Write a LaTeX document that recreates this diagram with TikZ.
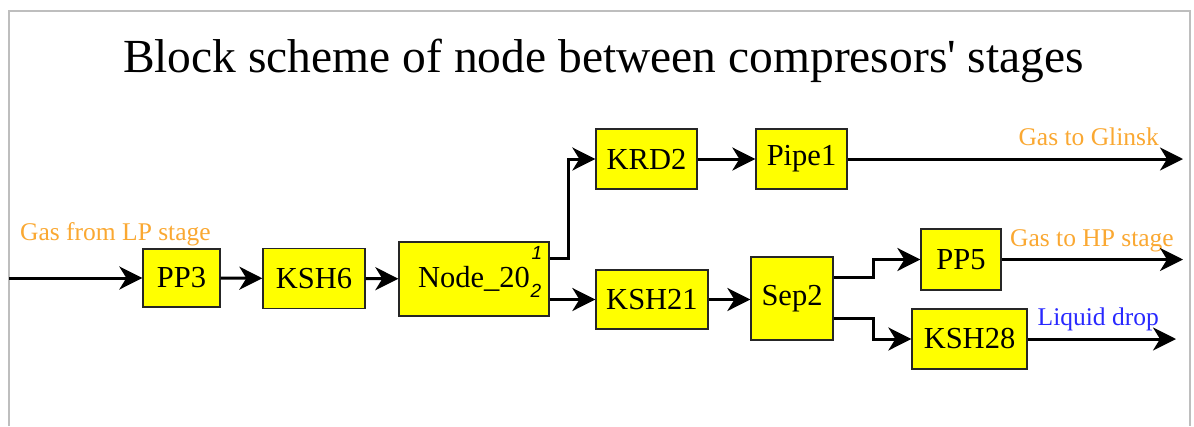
\documentclass[tikz,border=0pt]{standalone}
\usepackage{fontspec}
\setmainfont{Liberation Serif}
\newfontfamily\portfont{Liberation Sans}
\usetikzlibrary{arrows.meta}
\definecolor{boxyellow}{RGB}{255,255,0}
\definecolor{lblorange}{RGB}{250,168,50}
\definecolor{lblblue}{RGB}{40,40,255}
\definecolor{framegray}{RGB}{190,190,190}
\tikzset{
  blk/.style={draw=black!85, fill=boxyellow, line width=1.3pt, inner sep=0pt, font=\rmfamily\fontsize{30.5}{32}\selectfont},
  flow/.style={-{Stealth[length=23pt,width=23pt,inset=7pt]}, line width=3pt},
  lbl/.style={inner sep=0pt, font=\rmfamily\fontsize{25.5}{27}\selectfont},
  port/.style={inner sep=0pt, font=\portfont\itshape\fontsize{19}{20}\selectfont}
}
\begin{document}
\begin{tikzpicture}[x=1pt,y=-1pt]
\useasboundingbox (0,0) rectangle (1194,426);
\draw[framegray, line width=2pt] (9,426) -- (9,11) -- (1190,11) -- (1190,426);
\node[anchor=base, inner sep=0pt, font=\fontsize{47.5}{50}\selectfont] (title) at (603.5,72) {Block scheme of node between compresors\textquotesingle{} stages};
\node[blk, minimum width=77pt, minimum height=58pt] (pp3) at (181.5,278) {PP3};
\node[blk, minimum width=102pt, minimum height=60pt] (ksh6) at (314,278.5) {KSH6};
\node[blk, minimum width=150pt, minimum height=74pt] (n20) at (474,279) {Node\_20};
\node[port] (p1) at (537,253) {1};
\node[port] (p2) at (536,291) {2};
\node[blk, minimum width=101pt, minimum height=60pt] (krd2) at (646.5,159) {KRD2};
\node[blk, minimum width=91pt, minimum height=60pt] (pipe1) at (801.5,159) {Pipe1};
\node[blk, minimum width=112pt, minimum height=59pt] (ksh21) at (652,299.5) {KSH21};
\node[blk, minimum width=82pt, minimum height=83pt] (sep2) at (792,298.5) {Sep2};
\node[blk, minimum width=80pt, minimum height=61pt] (pp5) at (961,259.5) {PP5};
\node[blk, minimum width=115pt, minimum height=60pt] (ksh28) at (969.5,339) {KSH28};
\coordinate (in) at (9,278);
\coordinate (glinsk) at (1183,159);
\coordinate (hp) at (1183,259.5);
\coordinate (drop) at (1176,339);
\node[lbl, text=lblorange, anchor=base west] (lblin) at (20,240) {Gas from LP stage};
\node[lbl, text=lblorange, anchor=base east] (lblgl) at (1159,145) {Gas to Glinsk};
\node[lbl, text=lblorange, anchor=base east] (lblhp) at (1174,246) {Gas to HP stage};
\node[lbl, text=lblblue, anchor=base east] (lbldrop) at (1159,325) {Liquid drop};
\draw[flow] (in) -- (pp3);
\draw[flow] (pp3) -- (ksh6);
\draw[flow] (ksh6) -- (n20);
\draw[flow] ([yshift=21pt]n20.east) -- ++(19pt,0) |- (krd2.west);
\draw[flow] (n20.east |- ksh21.west) -- (ksh21.west);
\draw[flow] (krd2) -- (pipe1);
\draw[flow] (pipe1) -- (glinsk);
\draw[flow] (ksh21) -- (ksh21 -| sep2.west);
\draw[flow] ([yshift=21.5pt]sep2.east) -- ++(40pt,0) |- (pp5.west);
\draw[flow] ([yshift=-19.5pt]sep2.east) -- ++(40pt,0) |- (ksh28.west);
\draw[flow] (pp5) -- (hp);
\draw[flow] (ksh28) -- (drop);
\end{tikzpicture}
\end{document}
